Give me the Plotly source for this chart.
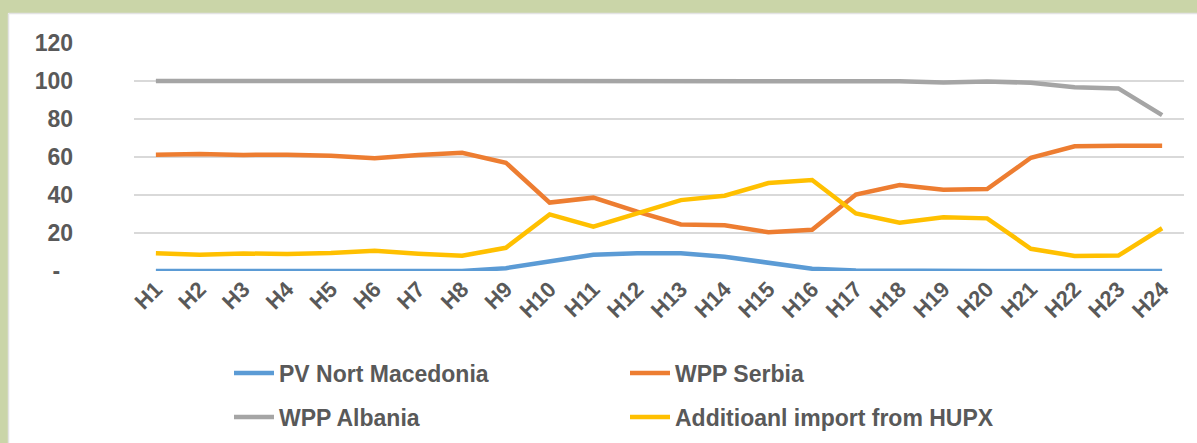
import plotly.graph_objects as go

hours = [f"H{i}" for i in range(1, 25)]

pv_north_macedonia = [0, 0, 0, 0, 0, 0, 0, 0, 1.5, 4.8, 8.6, 9.3, 9.4, 7.5, 4.3, 1.2,
                      0.2, 0, 0, 0, 0, 0, 0, 0]
wpp_serbia = [61.2, 61.6, 61.1, 61.2, 60.6, 59.4, 61.0, 62.2, 57.0, 36.0, 38.6, 31.2,
              24.5, 24.1, 20.4, 21.7, 40.2, 45.2, 42.8, 43.1, 59.6, 65.6, 65.9, 65.9]
wpp_albania = [100, 100, 100, 100, 100, 100.2, 99.9, 99.9, 99.9, 99.9, 99.9, 99.9,
               99.9, 99.9, 99.9, 99.9, 99.9, 99.9, 99.2, 99.7, 99.1, 96.7, 96.1, 82.0]
additional_import_hupx = [9.3, 8.6, 9.2, 9.0, 9.5, 10.6, 9.1, 8.0, 12.2, 29.8, 23.3, 30.5,
                          37.3, 39.6, 46.3, 47.9, 30.3, 25.4, 28.3, 27.7, 11.7, 7.9, 8.1, 22.5]

series_names = ["PV Nort Macedonia", "WPP Serbia", "WPP Albania", "Additioanl import from HUPX"]
series_values = [pv_north_macedonia, wpp_serbia, wpp_albania, additional_import_hupx]
series_colors = ["#5B9BD5", "#ED7D31", "#A5A5A5", "#FFC000"]
series_legends = ["legend", "legend", "legend2", "legend2"]

y_tickvals = [0, 20, 40, 60, 80, 100, 120]
y_ticktext = ["-\u00a0\u00a0", "20", "40", "60", "80", "100", "120"]

W, H = 1197, 443
L, R, T, B = 134, 13, 43, 172
pw, ph = W - L - R, H - T - B


def px_x(p):
    return (p - L) / pw


def px_y(p):
    return (H - B - p) / ph


FONT = "Liberation Sans, Arial, sans-serif"
TXT = "#595959"

fig = go.Figure()
for name, vals, col, lg in zip(series_names, series_values, series_colors, series_legends):
    fig.add_trace(go.Scatter(
        x=hours, y=vals, name=name, mode="lines",
        line=dict(color=col, width=4.5), legend=lg,
        hoverinfo="x+y+name",
    ))

GREEN = "#CAD5A8"
shapes = [
    dict(type="rect", xref="paper", yref="paper", layer="below",
         x0=px_x(0), x1=px_x(W), y0=px_y(13), y1=px_y(0),
         fillcolor=GREEN, line=dict(width=0)),
    dict(type="rect", xref="paper", yref="paper", layer="below",
         x0=px_x(0), x1=px_x(8), y0=px_y(H), y1=px_y(0),
         fillcolor=GREEN, line=dict(width=0)),
    dict(type="line", xref="paper", yref="paper", layer="below",
         x0=px_x(8.5), x1=px_x(W), y0=px_y(13.5), y1=px_y(13.5),
         line=dict(color="#E3E3E3", width=1.5)),
    dict(type="line", xref="paper", yref="paper", layer="below",
         x0=px_x(8.5), x1=px_x(8.5), y0=px_y(H), y1=px_y(13.5),
         line=dict(color="#E3E3E3", width=1.5)),
]

legend_common = dict(
    orientation="h", xanchor="left", yanchor="middle",
    font=dict(family=FONT, size=23, color=TXT, weight="bold"),
    entrywidth=341, entrywidthmode="pixels",
    bgcolor="rgba(0,0,0,0)", itemwidth=40,
)

fig.update_layout(
    width=W, height=H,
    margin=dict(l=L, r=R, t=T, b=B, autoexpand=False),
    paper_bgcolor="white", plot_bgcolor="rgba(0,0,0,0)",
    shapes=shapes,
    showlegend=True,
    legend=dict(x=px_x(229), y=px_y(373), **legend_common),
    legend2=dict(x=px_x(229), y=px_y(417), **legend_common),
    xaxis=dict(
        type="category", range=[-0.5, 23.5],
        showgrid=False, zeroline=False, showline=False,
        tickangle=-45, ticks="",
        tickfont=dict(family=FONT, size=22, color=TXT, weight="bold"),
    ),
    yaxis=dict(
        range=[0, 120], tickvals=y_tickvals, ticktext=y_ticktext,
        showgrid=True, gridcolor="#D9D9D9", gridwidth=1.5,
        zeroline=False, showline=False, ticks="",
        ticklabelstandoff=60,
        tickfont=dict(family=FONT, size=23, color=TXT, weight="bold"),
    ),
)

fig.write_html("out.html", config={"displayModeBar": False},
               post_script="document.body.style.margin='0';")
